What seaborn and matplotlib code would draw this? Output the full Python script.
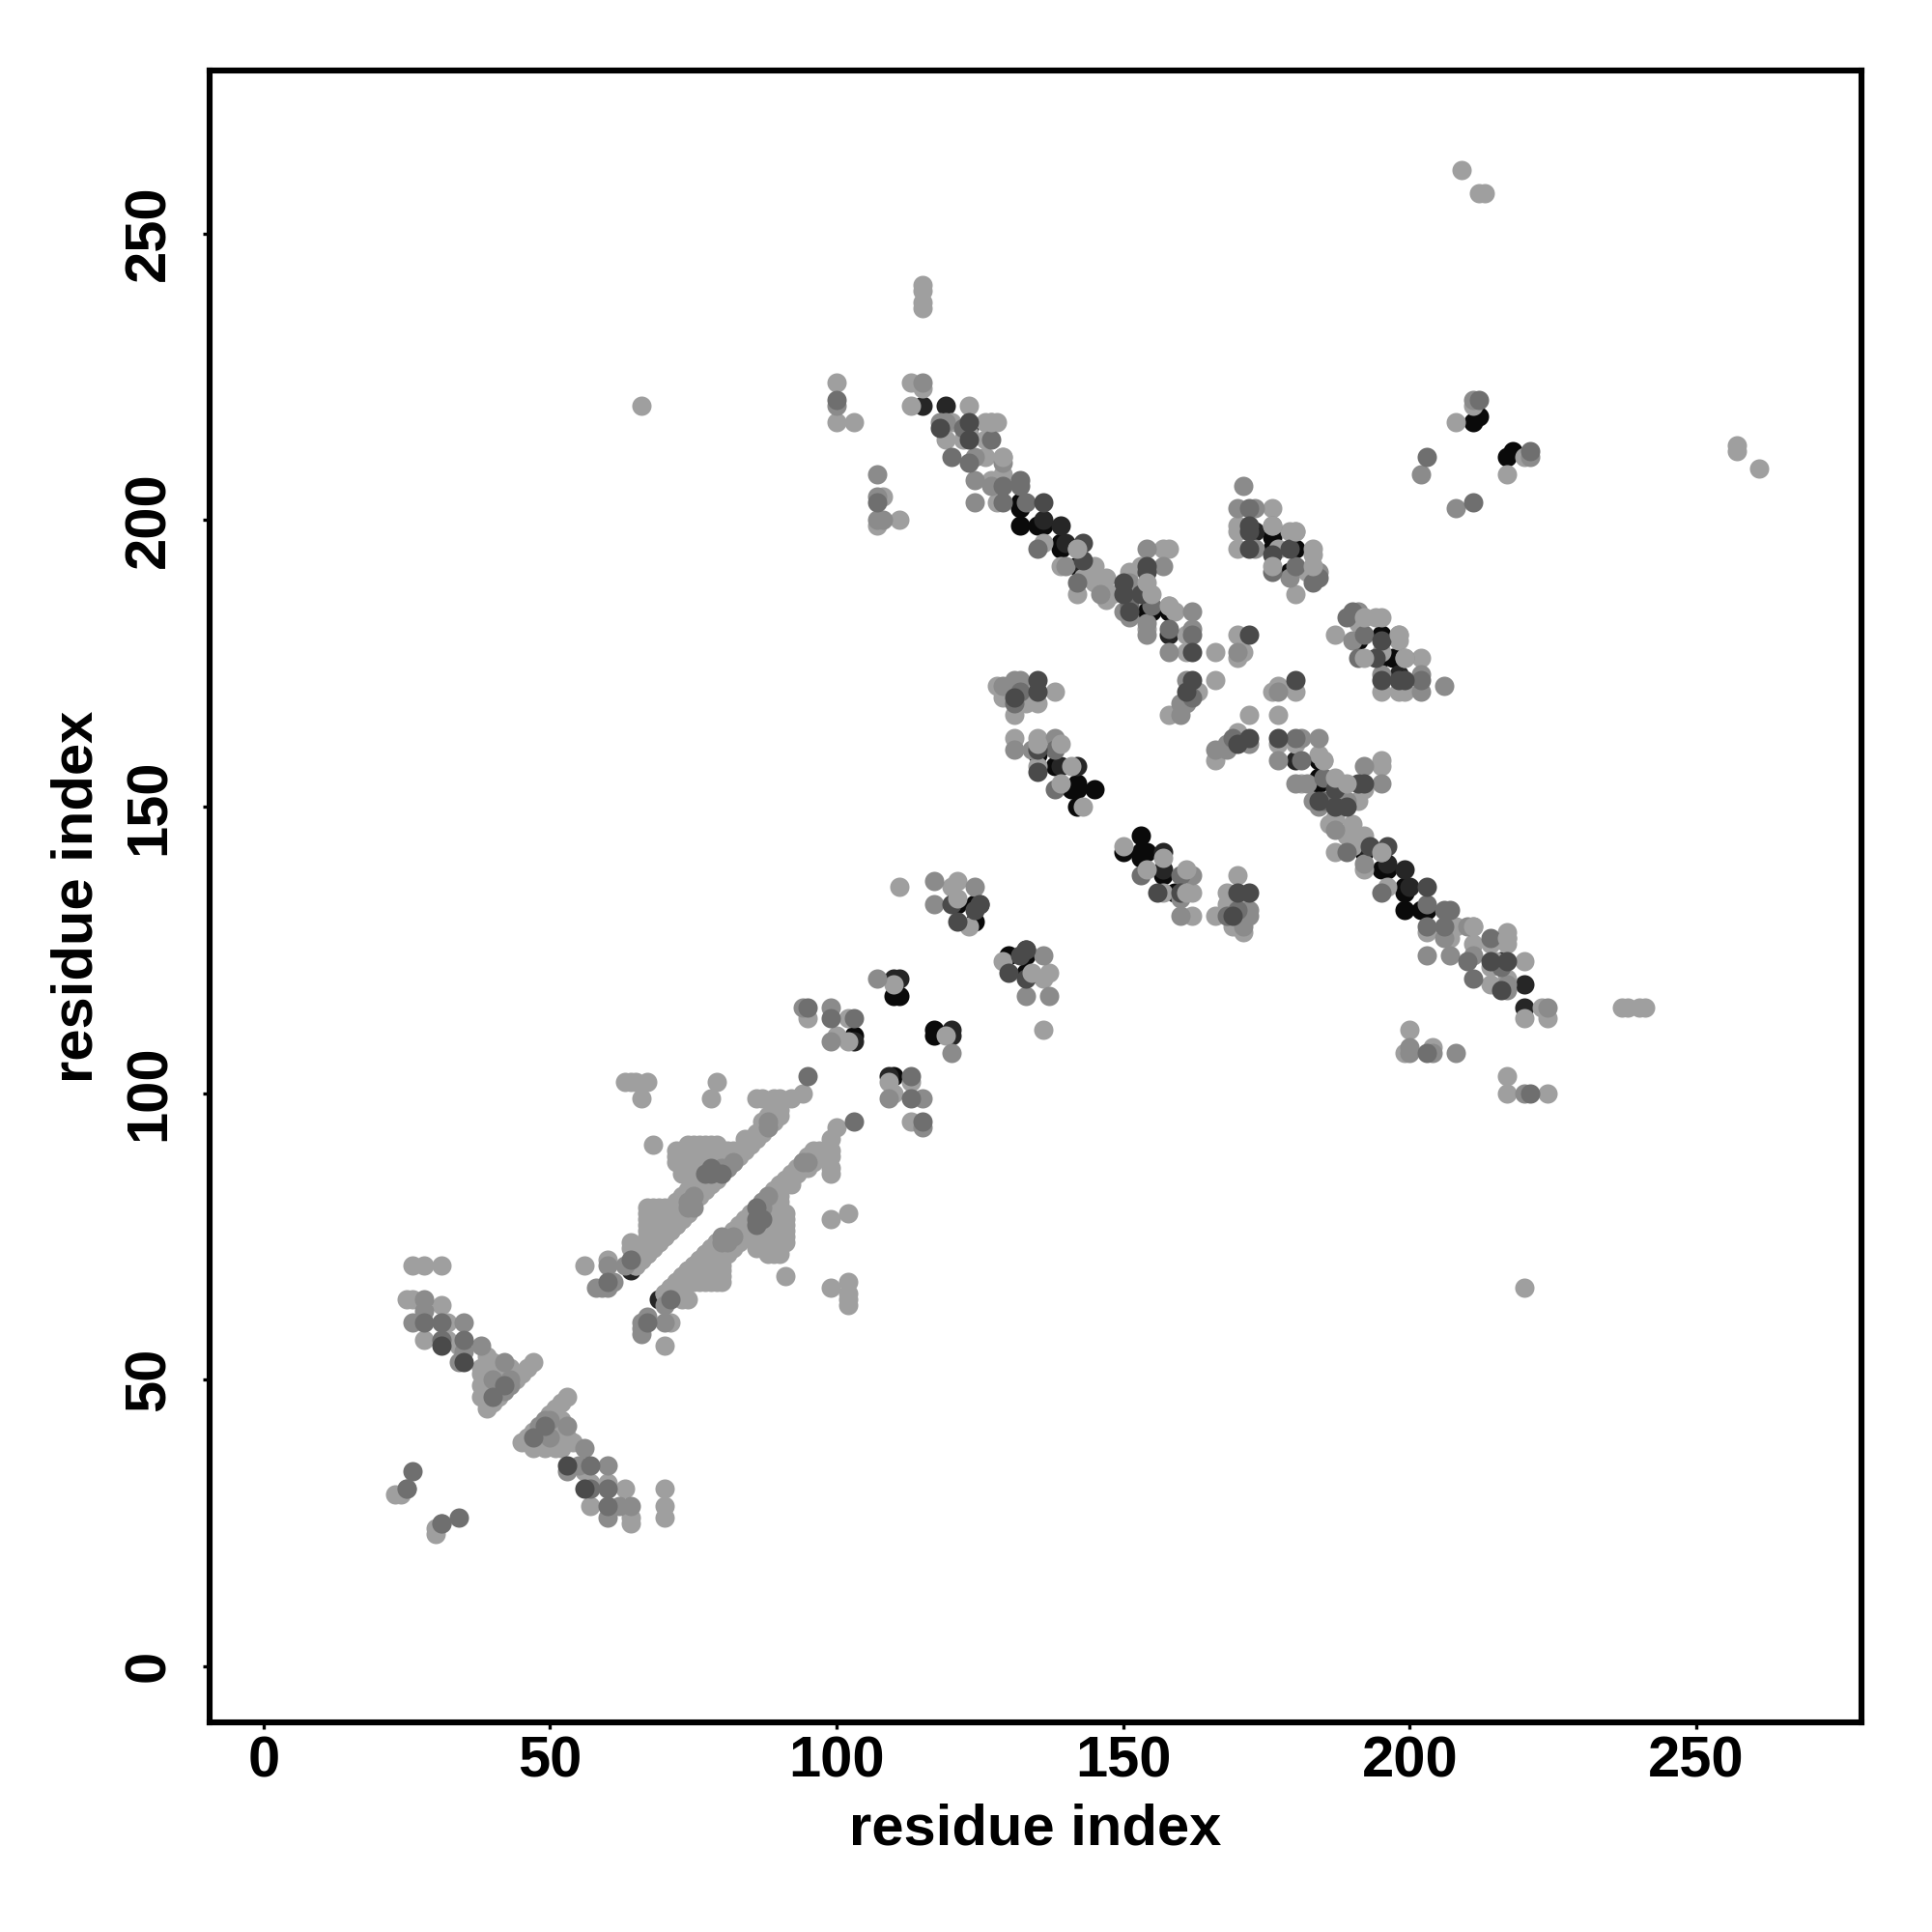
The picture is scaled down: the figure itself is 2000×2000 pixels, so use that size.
import matplotlib
matplotlib.use("Agg")
import matplotlib.pyplot as plt
import pandas as pd
import seaborn as sns

TICKS = [0, 50, 100, 150, 200, 250]
AXIS_LABEL = "residue index"

# Contacts (i, j), read from the upper triangle; the map is symmetric.
block_rows = {
    80: [67, 68, 69, 70, 71, 72, 73, 74], 79: [67, 68, 69, 70, 71, 72, 73, 74], 78: [67, 68, 69, 70, 71, 72, 73],
    77: [67, 68, 69, 70, 71, 72], 76: [67, 68, 69, 70, 71], 75: [67, 68, 69, 70], 74: [64, 67, 68, 69],
    73: [64, 66, 67, 68], 72: [65, 66, 67], 71: [60, 65, 66], 70: [56, 65], 91: [68, 74, 75, 76, 77, 78, 79, 85],
    90: [72, 73, 74, 75, 76, 77, 78, 79, 80, 81, 82, 83, 84], 89: [72, 73, 74, 75, 76, 77, 78, 79, 80, 81, 82, 83],
    88: [72, 73, 74, 75, 76, 77, 78, 79, 80, 81, 82], 87: [73, 74, 75, 76, 77, 79, 81],
    86: [73, 74, 75, 76, 79], 85: [76, 77, 78, 79], 84: [75, 76, 77, 78], 83: [74, 75, 76, 77],
    82: [73, 74, 75, 76], 81: [72, 73, 74, 75], 92: [84, 85, 86], 93: [86, 87], 94: [87, 88], 95: [87, 89],
    96: [88, 89, 90], 97: [89, 90], 99: [66, 78, 86, 87, 89, 90, 92], 102: [63, 64, 65, 67, 79],
    100: [94], 98: [89, 90],
}
light = [(j_i, j) for j, row in block_rows.items() for j_i in row] + [
    (65, 70), (66, 71), (67, 72), (68, 73), (69, 74), (70, 75), (71, 76), (72, 77), (73, 78), (74, 79),
    (26, 70), (28, 70), (31, 70), (25, 64), (26, 64), (31, 63), (32, 60), (28, 57), (32, 57), (34, 56),
    (39, 54), (39, 52), (40, 53), (47, 53), (46, 52), (45, 51), (44, 51), (38, 51), (38, 52), (39, 50),
    (40, 51), (39, 45), (40, 46), (41, 47), (39, 47), (40, 48), (41, 51), (44, 50), (43, 52), (42, 51),
    (23, 30), (24, 30), (38, 49), (38, 47), (39, 48), (41, 49), (42, 50),
    (102, 113), (102, 109), (100, 110), (95, 113), (111, 136), (120, 136), (121, 137), (123, 129),
    (110, 119), (128, 171), (129, 169), (131, 166), (133, 168), (133, 170), (135, 168), (138, 170),
    (131, 162), (135, 162), (135, 157), (141, 157),
    (158, 166), (163, 170), (166, 172), (66, 220), (115, 237), (115, 238), (115, 240), (115, 241),
    (209, 261), (212, 257), (213, 257), (208, 217), (211, 220), (113, 220), (113, 224),
    (115, 223), (100, 217), (103, 217), (100, 224), (107, 199), (108, 204), (111, 200),
    (119, 214), (120, 217), (122, 214), (123, 215), (123, 220), (126, 214), (126, 217), (127, 217), (128, 217),
    (126, 211), (129, 211), (129, 208), (127, 207), (128, 203), (136, 196), (142, 195), (145, 192), (143, 190),
    (145, 189), (147, 190), (142, 187), (147, 186), (148, 187), (151, 191), (153, 192), (157, 195), (158, 195),
    (158, 185), (159, 184), (154, 181), (161, 180), (161, 177), (166, 177), (170, 180),
    (171, 177), (170, 176), (139, 192), (176, 202), (170, 199), (170, 198), (170, 195), (179, 198),
    (180, 198), (180, 187), (183, 195), (183, 194), (182, 191), (183, 192), (177, 195),
]
mid = [
    (28, 64), (28, 62), (26, 60), (35, 60), (38, 56), (42, 53), (35, 55), (34, 53), (25, 31), (40, 50), (43, 50), (42, 48), (43, 49),
    (60, 66), (59, 66), (58, 66), (61, 67), (60, 70), (63, 70),
    (74, 80), (75, 80), (74, 81), (75, 82), (80, 87), (81, 87), (82, 88), (88, 95), (88, 94),
    (99, 115), (94, 115), (99, 109), (117, 137), (117, 133), (124, 136), (107, 120),
    (129, 171), (131, 172), (132, 172), (131, 160), (138, 162), (134, 160), (160, 166), (160, 168), (161, 168),
    (161, 172), (202, 208), (211, 221), (115, 224), (100, 220), (107, 200), (108, 200), (107, 204), (107, 208),
    (119, 217), (118, 217), (124, 211), (124, 207), (124, 203), (129, 210), (127, 206), (140, 192),
    (146, 187), (154, 195), (157, 192), (151, 189), (151, 183), (150, 184), (154, 182), (162, 184), (154, 180),
    (162, 181), (158, 177), (170, 177), (171, 206), (170, 202), (173, 202), (176, 199), (173, 195), (179, 190),
    (184, 191),
]
middark = [
    (28, 60), (31, 60), (31, 57), (35, 57), (42, 49), (26, 34), (25, 31), (40, 47),
    (64, 71), (60, 67), (77, 86), (78, 87), (78, 86), (80, 86),
    (95, 103), (99, 113), (95, 115), (138, 160), (138, 153), (131, 168), (132, 170),
    (162, 169), (203, 211), (212, 221), (100, 221), (120, 211), (123, 210), (122, 216), (127, 214), (129, 206), (132, 207), (132, 206),
    (133, 203), (135, 195), (142, 189), (155, 185), (151, 185), (158, 181), (162, 180), (129, 203),
    (107, 203), (103, 113), (172, 202), (180, 192), (184, 190), (183, 189), (176, 191),
]
dark = [
    (31, 56), (35, 53), (120, 133), (121, 130), (124, 132), (125, 133), (131, 169), (135, 160), (135, 156),
    (123, 214), (123, 217), (118, 216), (143, 196), (136, 203), (143, 193), (150, 187), (150, 189), (153, 187),
    (151, 184), (172, 180), (172, 195), (172, 198), (172, 199), (176, 194), (179, 195), (135, 170), (135, 172),
    (154, 191), (154, 192), (161, 170), (162, 172), (162, 177),
]
verydark = [
    (64, 69), (110, 120), (111, 120), (103, 109), (119, 220), (123, 216), (136, 200), (139, 199), (140, 196),
    (143, 192), (151, 187), (158, 180), (173, 198), (139, 157), (142, 157), (115, 220), (133, 125),
]
black = [
    (121, 133), (124, 133), (124, 130), (110, 117), (111, 117), (103, 110), (132, 203), (132, 202), (132, 199),
    (135, 199), (136, 199), (139, 196), (139, 195), (142, 192), (154, 184), (155, 184), (158, 184), (176, 197),
    (176, 195), (180, 195), (179, 191), (183, 190), (183, 191), (131, 170), (132, 171), (138, 157), (141, 153),
    (142, 153), (142, 154), (145, 153), (142, 150), (135, 159), (211, 217), (212, 218),
]
light_top = [
    (121, 134), (143, 150), (139, 161), (139, 154), (154, 189), (155, 187), (176, 192), (135, 161), (142, 195),
    (127, 217), (129, 211), (158, 185), (183, 192), (176, 199), (180, 198),
]

GREYS = {
    "light": "#9f9f9f", "mid": "#8b8b8b", "middark": "#6f6f6f", "dark": "#4a4a4a",
    "verydark": "#262626", "black": "#0a0a0a",
}

sns.set_theme(style="white")
plt.rcParams["font.family"] = ["Liberation Sans", "DejaVu Sans"]
plt.rcParams["font.weight"] = "bold"

fig = plt.figure(figsize=(10, 10), dpi=200, facecolor="white")
ax = fig.add_axes([217 / 2000, 1 - 1783 / 2000, 1710 / 2000, 1710 / 2000])


def layer(pairs, name):
    i = [p[0] for p in pairs]
    j = [p[1] for p in pairs]
    df = pd.DataFrame({"x": i + j, "y": j + i})
    sns.scatterplot(data=df, x="x", y="y", color=GREYS[name], s=52, linewidth=0, ax=ax, legend=False)


layer(black, "black")
layer(verydark, "verydark")
layer(light, "light")
layer(mid, "mid")
layer(middark, "middark")
layer(dark, "dark")
layer(light_top, "light")

ax.set_xlim(-9.4, 278.8)
ax.set_ylim(-9.8, 278.4)
ax.set_xticks(TICKS)
ax.set_yticks(TICKS)
ax.set_xticklabels([str(t) for t in TICKS], fontsize=21.5, fontweight="bold", color="black")
ax.set_yticklabels([str(t) for t in TICKS], fontsize=21.5, fontweight="bold", rotation=90, va="center", color="black")
ax.set_xlabel(AXIS_LABEL, fontsize=21.5, fontweight="bold", labelpad=5.6, color="black")
ax.set_ylabel(AXIS_LABEL, fontsize=21.5, fontweight="bold", labelpad=7, color="black")
ax.tick_params(axis="x", length=2.5, width=1.2, color="black", pad=2.2, bottom=True)
ax.tick_params(axis="y", length=2.5, width=1.2, color="black", pad=10, left=True)
for s in ax.spines.values():
    s.set_visible(True)
    s.set_color("black")
    s.set_linewidth(2.2)
ax.grid(False)
fig.savefig("out.png", dpi=200, facecolor="white")
